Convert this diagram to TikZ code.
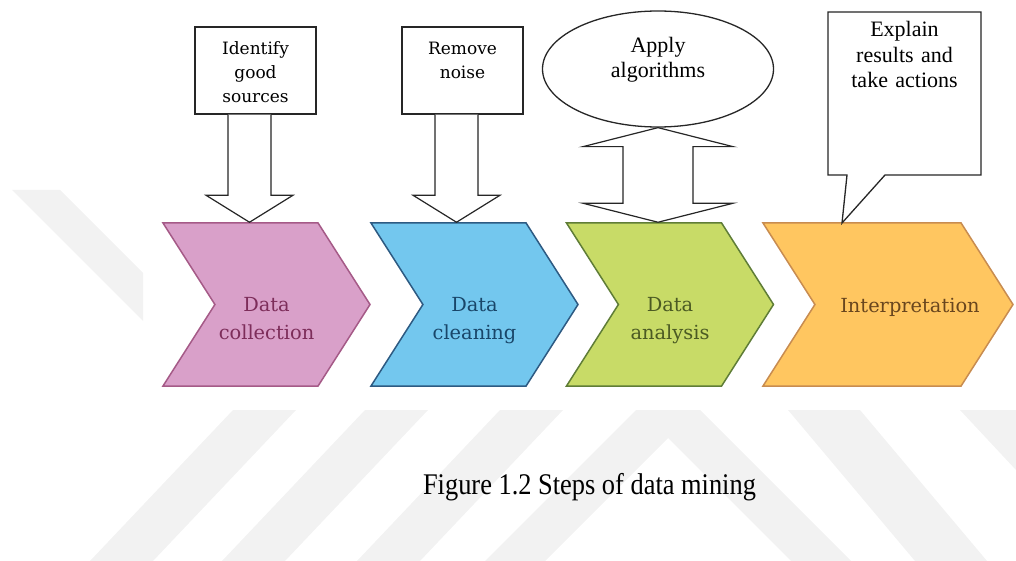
\documentclass[tikz,border=0pt]{standalone}
\usepackage{fontspec}
\setmainfont{Liberation Serif}
\newfontfamily\dejavu{DejaVu Serif}
\usepackage{tikz}
\usetikzlibrary{shapes.symbols,shapes.geometric,shapes.callouts,calc}
\definecolor{pinkfill}{RGB}{217,160,201}
\definecolor{pinkline}{RGB}{165,90,135}
\definecolor{pinktext}{RGB}{125,45,90}
\definecolor{bluefill}{RGB}{115,199,238}
\definecolor{blueline}{RGB}{45,90,130}
\definecolor{bluetext}{RGB}{25,70,105}
\definecolor{greenfill}{RGB}{200,219,103}
\definecolor{greenline}{RGB}{95,125,55}
\definecolor{greentext}{RGB}{75,90,35}
\definecolor{orangefill}{RGB}{255,198,96}
\definecolor{orangeline}{RGB}{200,140,80}
\definecolor{orangetext}{RGB}{105,70,30}
\definecolor{wmgray}{RGB}{242,242,242}
\tikzset{
  steptext/.style={font=\dejavu\fontsize{9.7}{14}\selectfont},
  chevron/.style={signal, signal from=west, signal to=east, signal pointer angle=115,
    minimum height=81.5pt, minimum width=103.5pt, inner sep=0pt, line width=0.75pt,
    text width=50pt, align=center, text height=24pt, text depth=17pt, steptext},
  srcbox/.style={draw=black!85, line width=0.65pt, fill=white, text width=60.5pt,
    align=center, inner sep=0pt, text height=14pt, text depth=29.5pt,
    font=\dejavu\fontsize{8.5}{12}\selectfont},
  blockarrow/.style={draw=black!85, line width=0.6pt, fill=white},
  watermark/.style={fill=wmgray, draw=none}
}

\begin{document}
\begin{tikzpicture}[x=0.5pt, y=-0.5pt]
\useasboundingbox (0,0) rectangle (1016,561);
% faint watermark behind the figure
\fill[watermark] (12,190) -- (60,190) -- (143,273) -- (143,321) -- cycle;
\foreach \x in {233,365,500} {
    \fill[watermark] (\x,410) -- (\x+63,410) -- (\x-80,561) -- (\x-143,561) -- cycle;
}
\fill[watermark] (636,410) -- (700,410) -- (851,561) -- (791,561) -- (668,438) -- (545,561) -- (485,561) -- cycle;
\fill[watermark] (788,410) -- (860,410) -- (987,561) -- (915,561) -- cycle;
\fill[watermark] (960,410) -- (1016,410) -- (1016,470) -- cycle;

% process steps
\node[chevron, fill=pinkfill, draw=pinkline, text=pinktext] (collect) at (266.5,304.5) {Data\\collection};
\node[chevron, fill=bluefill, draw=blueline, text=bluetext] (clean) at (474.5,304.5) {Data\\cleaning};
\node[chevron, fill=greenfill, draw=greenline, text=greentext] (analyse) at (670,304.5) {Data\\analysis};
\node[chevron, fill=orangefill, draw=orangeline, minimum width=125pt,
  label={[steptext, text=orangetext, xshift=11pt, yshift=-1.5pt]center:Interpretation}] (interp) at (888,304.5) {};

% what goes into each step
\node[srcbox] (sources) at (255.5,70.5) {Identify\\good\\sources};
\node[srcbox] (noise) at (462.5,70.5) {Remove\\noise};
\node[ellipse, draw=black!85, line width=0.65pt, fill=white, minimum width=115.5pt,
  minimum height=58pt, inner sep=0pt, text width=60pt, align=center, text height=8pt,
  text depth=24pt, font=\fontsize{11}{12.5}\selectfont] (algos) at (658,69) {Apply\\algorithms};
\coordinate (cue) at (842,223);
\node[rectangle callout, callout absolute pointer={(cue)}, callout pointer width=19pt,
  draw=black!85, line width=0.65pt, fill=white, text width=76.5pt, align=center,
  inner sep=0pt, text height=12.5pt, text depth=69pt,
  font=\fontsize{11}{12.75}\selectfont] (explain) at (904.5,93.5) {Explain\\results and\\take actions};

% hollow block arrows
\foreach \src/\dst in {sources/collect, noise/clean} {
    \coordinate (stem) at ([xshift=-3pt]\src.south);
    \coordinate (tip) at (stem |- \dst.north);
    \draw[blockarrow] ($(stem)+(-21.5,0)$) -- ($(tip)+(-21.5,-27)$) -- ($(tip)+(-43.5,-27)$) -- (tip)
        -- ($(tip)+(43.5,-27)$) -- ($(tip)+(21.5,-27)$) -- ($(stem)+(21.5,0)$);
}
\coordinate (up) at (algos.south);
\coordinate (down) at (up |- analyse.north);
\draw[blockarrow] (up) -- ($(up)+(75,19)$) -- ($(up)+(35,19)$) -- ($(down)+(35,-19)$)
    -- ($(down)+(75,-19)$) -- (down) -- ($(down)+(-75,-19)$) -- ($(down)+(-35,-19)$)
    -- ($(up)+(-35,19)$) -- ($(up)+(-75,19)$) -- cycle;

\node[font=\fontsize{15}{18}\selectfont, xscale=0.88] (caption) at (589.5,487) {Figure 1.2 Steps of data mining};
\end{tikzpicture}
\end{document}
